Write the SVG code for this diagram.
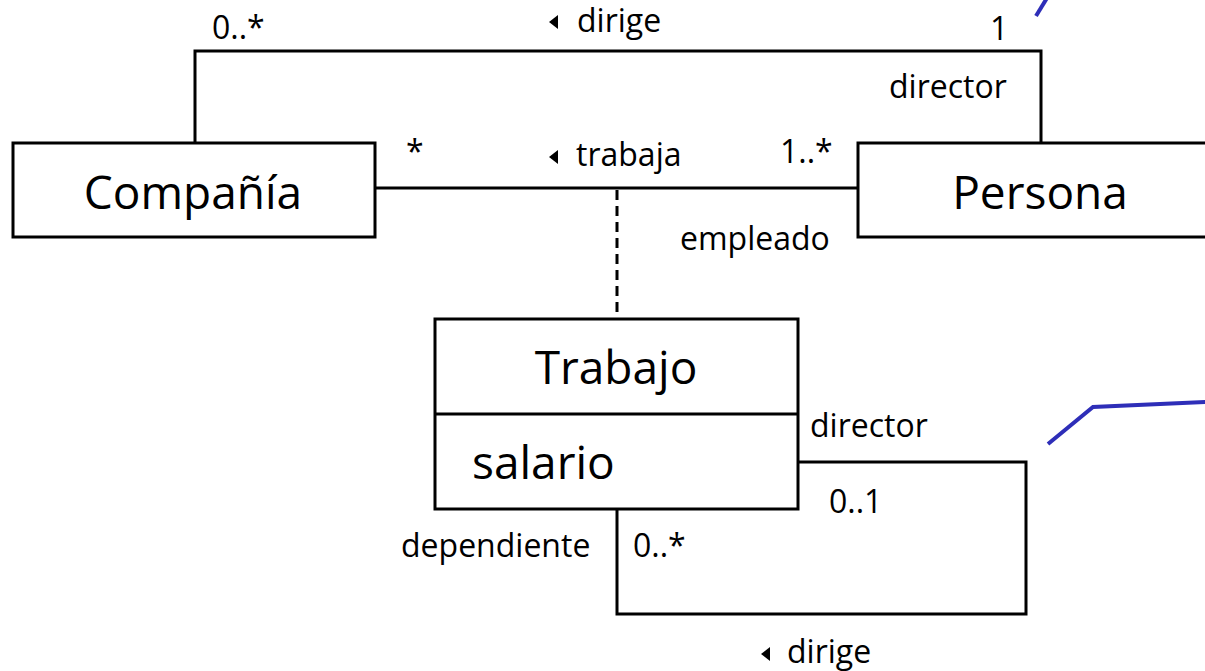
<svg xmlns="http://www.w3.org/2000/svg" width="1205" height="671" viewBox="0 0 1205 671">
<style>
.box{fill:#fff;stroke:#000;stroke-width:3}
.ln{fill:none;stroke:#000;stroke-width:3}
.dash{fill:none;stroke:#000;stroke-width:3;stroke-dasharray:10 6}
.blue{fill:none;stroke:#2E2EB8;stroke-width:4}
.lbl{font-family:"Open Sans",sans-serif;font-size:32px;fill:#000}
.big{font-family:"Open Sans",sans-serif;font-size:46px;fill:#000}
.tri{fill:#000}
</style>
<rect width="1205" height="671" fill="#fff"/>
<g id="connectors">
<polyline class="ln" points="195,143 195,51 1041,51 1041,143"/>
<line class="ln" x1="375" y1="188" x2="858" y2="188"/>
<line class="dash" x1="617" y1="190" x2="617" y2="319"/>
<polyline class="ln" points="798,462 1026,462 1026,614 617,614 617,509"/>
</g>
<g id="Compania">
<rect class="box" x="13" y="143" width="362" height="94"/>
<text class="big" x="193" y="209" text-anchor="middle">Compañía</text>
</g>
<g id="Persona">
<rect class="box" x="858" y="143" width="400" height="94"/>
<text class="big" x="1040" y="209" text-anchor="middle">Persona</text>
</g>
<g id="Trabajo">
<rect class="box" x="435" y="319" width="363" height="190"/>
<line class="ln" x1="435" y1="414" x2="798" y2="414"/>
<text class="big" x="616" y="384" text-anchor="middle">Trabajo</text>
<text class="big" x="472" y="479">salario</text>
</g>
<g id="labels">
<text class="lbl" x="212" y="39">0..*</text>
<polygon class="tri" points="549,22 558,15 558,29"/>
<text class="lbl" x="577" y="32">dirige</text>
<text class="lbl" x="990" y="40">1</text>
<text class="lbl" x="889" y="98">director</text>
<text class="lbl" x="406" y="163">*</text>
<polygon class="tri" points="549,157 558,150 558,164"/>
<text class="lbl" x="576" y="166">trabaja</text>
<text class="lbl" x="780" y="163">1..*</text>
<text class="lbl" x="680" y="250">empleado</text>
<text class="lbl" x="810" y="437">director</text>
<text class="lbl" x="829" y="513">0..1</text>
<text class="lbl" x="401" y="557">dependiente</text>
<text class="lbl" x="633" y="557">0..*</text>
<polygon class="tri" points="761,654 770,647 770,661"/>
<text class="lbl" x="787" y="663">dirige</text>
</g>
<g id="annotations">
<line class="blue" x1="1036" y1="16" x2="1047" y2="-2"/>
<polyline class="blue" points="1048,444 1093,407 1207,402"/>
</g>
</svg>
